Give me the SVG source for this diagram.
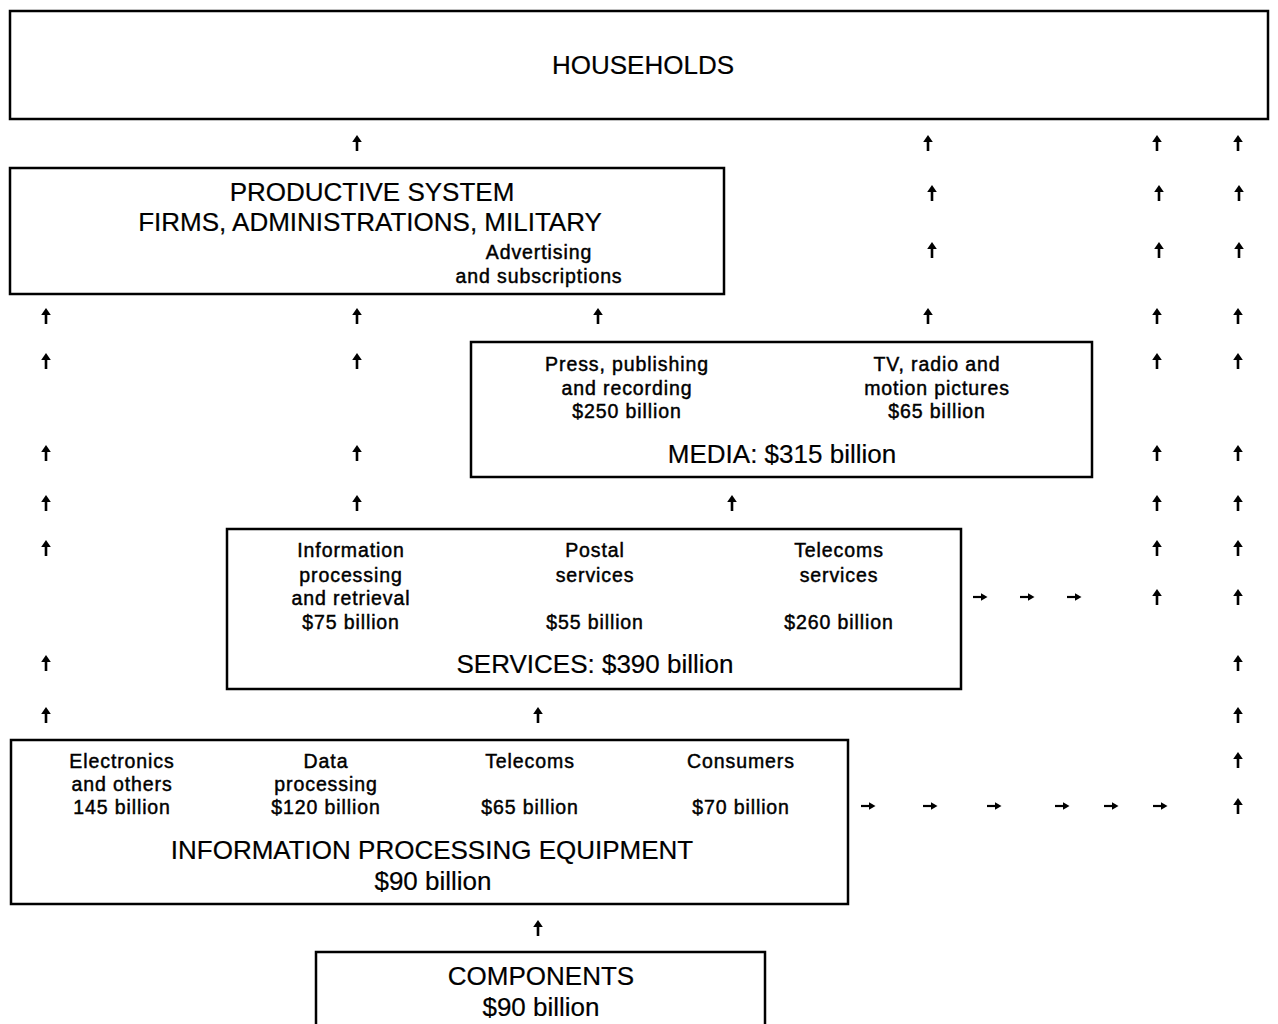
<svg xmlns="http://www.w3.org/2000/svg" width="1278" height="1024" viewBox="0 0 1278 1024">
<style>
.box{fill:#fff;stroke:#000;stroke-width:2.5}
.big{font-family:"Liberation Sans",Arial,sans-serif;font-size:26px;text-anchor:middle;fill:#000;stroke:#000;stroke-width:0.2}
.sm{font-family:"Liberation Sans",Arial,sans-serif;font-size:19.5px;letter-spacing:0.9px;text-anchor:middle;fill:#000;stroke:#000;stroke-width:0.45}
</style>
<defs>
<g id="up"><line x1="0" y1="-2" x2="0" y2="8" stroke="#000" stroke-width="2.6"/><path d="M-4.8,-1 L0,-8 L4.8,-1 Z" fill="#000"/></g>
<g id="rt"><line x1="-7" y1="0" x2="2" y2="0" stroke="#000" stroke-width="2.2"/><path d="M1,-3.8 L7.5,0 L1,3.8 Z" fill="#000"/></g>
</defs>
<rect width="1278" height="1024" fill="#fff"/>
<g id="households"><rect class="box" x="10" y="11" width="1258" height="108"/><text class="big" x="643" y="74">HOUSEHOLDS</text></g>
<g id="productive"><rect class="box" x="10" y="168" width="714" height="126"/>
<text class="big" x="372" y="201">PRODUCTIVE SYSTEM</text>
<text class="big" x="370" y="231">FIRMS, ADMINISTRATIONS, MILITARY</text>
<text class="sm" x="539" y="259">Advertising</text>
<text class="sm" x="539" y="283">and subscriptions</text></g>
<g id="media"><rect class="box" x="471" y="342" width="621" height="135"/>
<text class="sm" x="627" y="371">Press, publishing</text>
<text class="sm" x="627" y="395">and recording</text>
<text class="sm" x="627" y="418">$250 billion</text>
<text class="sm" x="937" y="371">TV, radio and</text>
<text class="sm" x="937" y="395">motion pictures</text>
<text class="sm" x="937" y="418">$65 billion</text>
<text class="big" x="782" y="463">MEDIA: $315 billion</text></g>
<g id="services"><rect class="box" x="227" y="529" width="734" height="160"/>
<text class="sm" x="351" y="557">Information</text>
<text class="sm" x="351" y="582">processing</text>
<text class="sm" x="351" y="605">and retrieval</text>
<text class="sm" x="351" y="629">$75 billion</text>
<text class="sm" x="595" y="557">Postal</text>
<text class="sm" x="595" y="582">services</text>
<text class="sm" x="595" y="629">$55 billion</text>
<text class="sm" x="839" y="557">Telecoms</text>
<text class="sm" x="839" y="582">services</text>
<text class="sm" x="839" y="629">$260 billion</text>
<text class="big" x="595" y="673">SERVICES: $390 billion</text></g>
<g id="equipment"><rect class="box" x="11" y="740" width="837" height="164"/>
<text class="sm" x="122" y="768">Electronics</text>
<text class="sm" x="122" y="791">and others</text>
<text class="sm" x="122" y="814">145 billion</text>
<text class="sm" x="326" y="768">Data</text>
<text class="sm" x="326" y="791">processing</text>
<text class="sm" x="326" y="814">$120 billion</text>
<text class="sm" x="530" y="768">Telecoms</text>
<text class="sm" x="530" y="814">$65 billion</text>
<text class="sm" x="741" y="768">Consumers</text>
<text class="sm" x="741" y="814">$70 billion</text>
<text class="big" x="432" y="859">INFORMATION PROCESSING EQUIPMENT</text>
<text class="big" x="433" y="890">$90 billion</text></g>
<g id="components"><rect class="box" x="316" y="952" width="449" height="80"/>
<text class="big" x="541" y="985">COMPONENTS</text>
<text class="big" x="541" y="1016">$90 billion</text></g>
<g id="connectors">
<use href="#up" x="357" y="143"/><use href="#up" x="928" y="143"/><use href="#up" x="1157" y="143"/><use href="#up" x="1238" y="143"/>
<use href="#up" x="932" y="193"/><use href="#up" x="1159" y="193"/><use href="#up" x="1239" y="193"/>
<use href="#up" x="932" y="250"/><use href="#up" x="1159" y="250"/><use href="#up" x="1239" y="250"/>
<use href="#up" x="46" y="316"/><use href="#up" x="357" y="316"/><use href="#up" x="598" y="316"/><use href="#up" x="928" y="316"/><use href="#up" x="1157" y="316"/><use href="#up" x="1238" y="316"/>
<use href="#up" x="46" y="361"/><use href="#up" x="357" y="361"/><use href="#up" x="1157" y="361"/><use href="#up" x="1238" y="361"/>
<use href="#up" x="46" y="453"/><use href="#up" x="357" y="453"/><use href="#up" x="1157" y="453"/><use href="#up" x="1238" y="453"/>
<use href="#up" x="46" y="503"/><use href="#up" x="357" y="503"/><use href="#up" x="732" y="503"/><use href="#up" x="1157" y="503"/><use href="#up" x="1238" y="503"/>
<use href="#up" x="46" y="548"/><use href="#up" x="1157" y="548"/><use href="#up" x="1238" y="548"/>
<use href="#up" x="1157" y="597"/><use href="#up" x="1238" y="597"/>
<use href="#rt" x="980" y="597"/><use href="#rt" x="1027" y="597"/><use href="#rt" x="1074" y="597"/>
<use href="#up" x="46" y="663"/><use href="#up" x="1238" y="663"/>
<use href="#up" x="46" y="715"/><use href="#up" x="538" y="715"/><use href="#up" x="1238" y="715"/>
<use href="#up" x="1238" y="760"/>
<use href="#up" x="1238" y="806"/>
<use href="#rt" x="868" y="806"/><use href="#rt" x="930" y="806"/><use href="#rt" x="994" y="806"/><use href="#rt" x="1062" y="806"/><use href="#rt" x="1111" y="806"/><use href="#rt" x="1160" y="806"/>
<use href="#up" x="538" y="928"/>
</g>
</svg>
